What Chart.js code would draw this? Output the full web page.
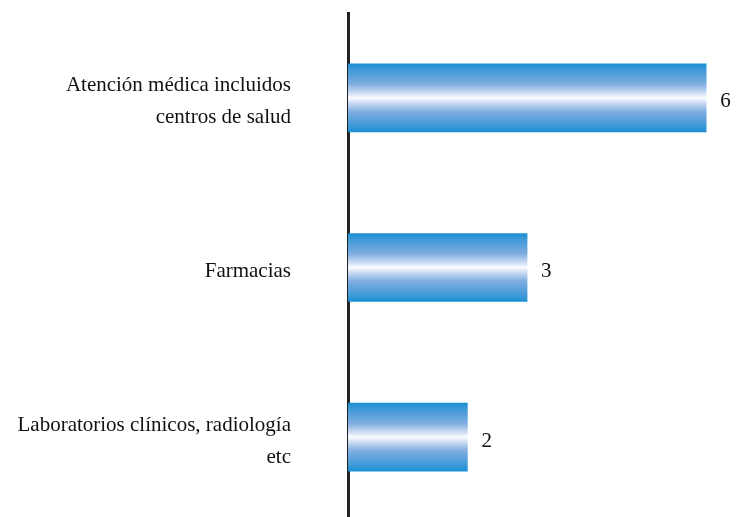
<!DOCTYPE html>
<html lang="es">
<head>
  <meta charset="UTF-8">
  <title>Servicios</title>
  <script src="https://cdn.jsdelivr.net/npm/chart.js"></script>
  <style>
    html, body { margin: 0; padding: 0; background: #fff; overflow: hidden; }
    #wrap { width: 739px; height: 522px; position: relative; }
  </style>
</head>
<body>
  <div id="wrap"><canvas id="chart"></canvas></div>
  <script>
    // data
    const categories = [
      ['Atención médica incluidos', 'centros de salud'],
      'Farmacias',
      ['Laboratorios clínicos, radiología', 'etc']
    ];
    const values = [6, 3, 2];

    const FONT = "'Liberation Serif', 'Times New Roman', serif";

    // vertical blue-white-blue gradient per bar
    function barGradient(context) {
      const chart = context.chart;
      if (!chart.chartArea || !chart.scales.y) return '#1b8fd2';
      const yc = chart.scales.y.getPixelForValue(context.dataIndex);
      const half = 34;
      const g = chart.ctx.createLinearGradient(0, yc - half, 0, yc + half);
      g.addColorStop(0, '#1990d3');
      g.addColorStop(0.08, '#3c98d7');
      g.addColorStop(0.3, '#80aee1');
      g.addColorStop(0.44, '#d4e1f5');
      g.addColorStop(0.5, '#fbfcff');
      g.addColorStop(0.56, '#d4e1f5');
      g.addColorStop(0.7, '#80aee1');
      g.addColorStop(0.92, '#3c98d7');
      g.addColorStop(1, '#1990d3');
      return g;
    }

    // write the value just right of each bar
    const valueLabels = {
      id: 'valueLabels',
      afterDatasetsDraw(chart) {
        const ctx = chart.ctx;
        const meta = chart.getDatasetMeta(0);
        ctx.save();
        ctx.font = '21px ' + FONT;
        ctx.fillStyle = '#111';
        ctx.textAlign = 'left';
        ctx.textBaseline = 'middle';
        meta.data.forEach((bar, i) => {
          ctx.fillText(String(values[i]), bar.x + 14, bar.y + 4);
        });
        ctx.restore();
      }
    };

    new Chart(document.getElementById('chart'), {
      type: 'bar',
      data: {
        labels: categories,
        datasets: [{
          data: values,
          backgroundColor: barGradient,
          borderWidth: 0,
          barThickness: 68
        }]
      },
      options: {
        indexAxis: 'y',
        responsive: true,
        maintainAspectRatio: false,
        animation: false,
        layout: { padding: { top: 13, right: 0, bottom: 0, left: 0 } },
        plugins: {
          legend: { display: false },
          tooltip: { enabled: false }
        },
        scales: {
          x: {
            display: false,
            min: 0,
            max: 6.55
          },
          y: {
            grid: { display: false, drawTicks: false },
            border: { display: true, color: '#222', width: 3 },
            ticks: {
              color: '#111',
              padding: 57,
              labelOffset: 4,
              font: { family: FONT, size: 21, lineHeight: 1.52 }
            },
            afterFit(scale) {
              scale.width = 348;
              // labels must not push the plot area in
              scale.paddingTop = 0;
              scale.paddingBottom = 0;
            }
          }
        }
      },
      plugins: [valueLabels]
    });
  </script>
</body>
</html>
